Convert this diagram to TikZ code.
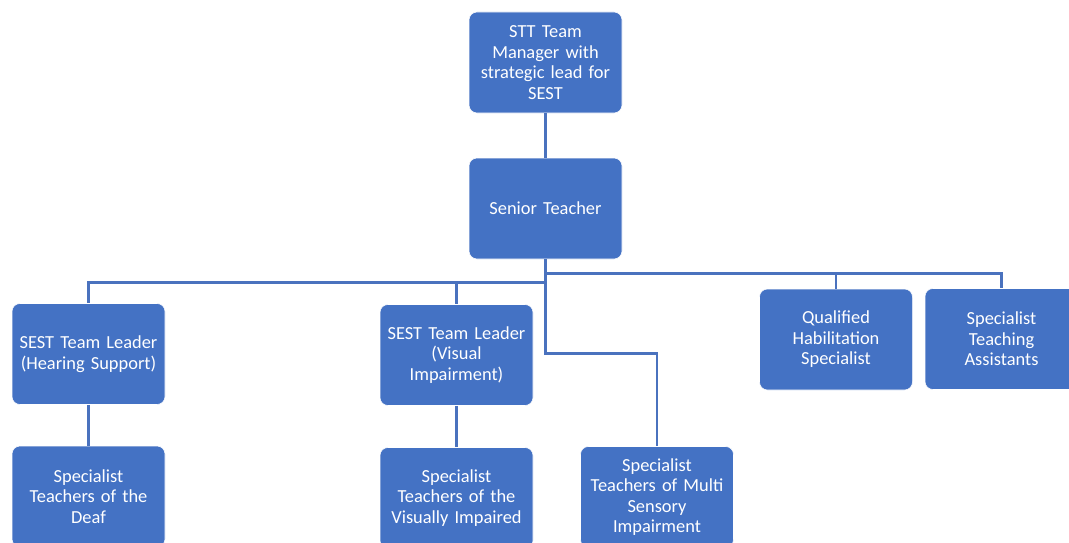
\documentclass[tikz,border=0pt]{standalone}
\usepackage{fontspec}
\setmainfont{Carlito}
\usetikzlibrary{positioning}

\definecolor{boxblue}{HTML}{4472C4}
\definecolor{lineblue}{HTML}{4A72BE}

\tikzset{
  post/.style={rectangle, rounded corners=6pt, fill=boxblue, draw=white, thin,
    text=white, minimum width=114.75pt, minimum height=75.75pt,
    text width=110pt, align=center, inner sep=2pt,
    font=\fontsize{13.8}{15.4}\selectfont},
  link/.style={draw=lineblue, line width=2.2pt}
}

\begin{document}
\begin{tikzpicture}[x=0.75pt,y=-0.75pt]
\useasboundingbox (0,0) rectangle (1069,542);

% top of the chart
\node[post] (stt) at (545.5,62.5) {STT Team\\Manager with\\strategic lead for\\SEST};
\node[post] (senior) at (545.5,208.5) {Senior Teacher};

% team leaders and others
\node[post] (hs) at (88.5,354) {SEST Team Leader\\(Hearing Support)};
\node[post] (vil) at (456.5,355) {SEST Team Leader\\(Visual\\Impairment)};
\node[post] (qhs) at (836,339.5) {Qualified\\Habilitation\\Specialist};
\node[post] (sta) at (1001.5,339) {Specialist\\Teaching\\Assistants};

% specialist teachers
\node[post] (deaf) at (88.5,496.5) {Specialist\\Teachers of the\\Deaf};
\node[post] (vi) at (456.5,498) {Specialist\\Teachers of the\\Visually Impaired};
\node[post] (msi) at (657,497) {Specialist\\Teachers of Multi\\Sensory\\Impairment};

\draw[link] (stt) -- (senior);

\draw[link] (senior.south) -- ++(0,14) coordinate (rbus) -| (qhs.north);
\draw[link] (rbus) -| (sta.north);
\draw[link] (senior.south) -- ++(0,23) coordinate (lbus) -| (hs.north);
\draw[link] (lbus) -| (vil.north);
\draw[link] (senior.south) -- ++(0,94) -| (msi.north);

\draw[link] (hs) -- (deaf);
\draw[link] (vil) -- (vi);

\end{tikzpicture}
\end{document}
